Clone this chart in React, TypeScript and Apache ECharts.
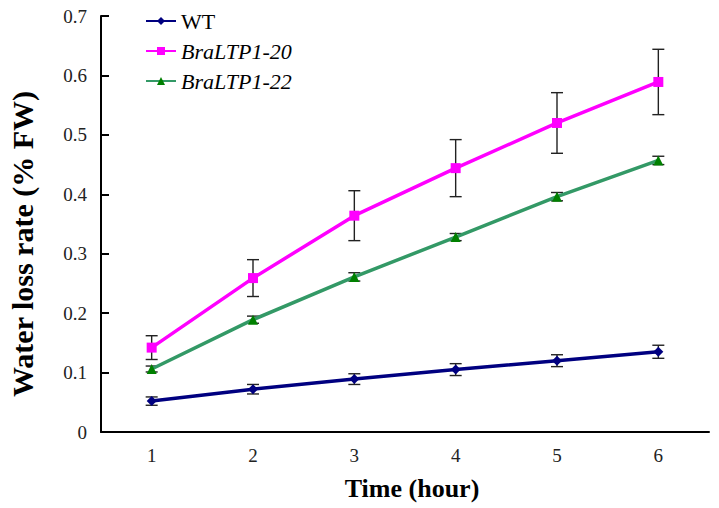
import React, { useEffect, useRef } from "react";
import * as echarts from "echarts";

const categories = ["1", "2", "3", "4", "5", "6"];
const seriesNames = ["WT", "BraLTP1-20", "BraLTP1-22"];
const wtValues = [0.052, 0.072, 0.089, 0.105, 0.12, 0.135];
const wtErrors = [0.007, 0.008, 0.009, 0.01, 0.01, 0.011];
const l20Values = [0.142, 0.259, 0.364, 0.444, 0.52, 0.589];
const l20Errors = [0.02, 0.031, 0.042, 0.048, 0.051, 0.055];
const l22Values = [0.106, 0.189, 0.261, 0.328, 0.396, 0.457];
const l22Errors = [0.005, 0.006, 0.007, 0.006, 0.007, 0.007];
const yTicks = { min: 0, max: 0.7, interval: 0.1 };
const xTitle = "Time (hour)";
const yTitle = "Water loss rate (% FW)";

const SERIF = "'Liberation Serif', 'Times New Roman', serif";

function errData(vals: number[], errs: number[]) {
  return vals.map((v, i) => [i, v - errs[i], v + errs[i]]);
}

function errorSeries(vals: number[], errs: number[]) {
  return {
    type: "custom",
    silent: true,
    z: 3,
    data: errData(vals, errs),
    encode: { x: 0, y: [1, 2] },
    renderItem: (params: any, api: any) => {
      const x = api.value(0);
      const lo = api.coord([x, api.value(1)]);
      const hi = api.coord([x, api.value(2)]);
      const w = 6;
      const style = { stroke: "#222", lineWidth: 1.4 };
      return {
        type: "group",
        children: [
          { type: "line", shape: { x1: lo[0], y1: lo[1], x2: hi[0], y2: hi[1] }, style },
          { type: "line", shape: { x1: lo[0] - w, y1: lo[1], x2: lo[0] + w, y2: lo[1] }, style },
          { type: "line", shape: { x1: hi[0] - w, y1: hi[1], x2: hi[0] + w, y2: hi[1] }, style },
        ],
      };
    },
  };
}

export default function App() {
  const ref = useRef<HTMLDivElement>(null);
  useEffect(() => {
    if (!ref.current) return;
    const chart = echarts.init(ref.current, undefined, { renderer: "svg" });
    chart.setOption({
      animation: false,
      backgroundColor: "#fff",
      grid: { left: 101, right: 10, top: 16, bottom: 76, containLabel: false },
      legend: {
        data: seriesNames,
        orient: "vertical",
        left: 140,
        top: 5,
        itemWidth: 30,
        itemHeight: 10,
        itemGap: 8,
        textStyle: {
          fontFamily: SERIF,
          fontSize: 22,
          color: "#000",
          lineHeight: 22,
          rich: { i: { fontFamily: SERIF, fontSize: 22, fontStyle: "italic", color: "#000" } },
        },
        formatter: (name: string) => (name === "WT" ? name : `{i|${name}}`),
      },
      xAxis: {
        type: "category",
        data: categories,
        boundaryGap: true,
        axisLine: { lineStyle: { color: "#000", width: 2 } },
        axisTick: { inside: true, length: 8, lineStyle: { color: "#000", width: 2 } },
        axisLabel: { fontFamily: SERIF, fontSize: 19, color: "#222", margin: 14 },
        splitLine: { show: false },
      },
      yAxis: {
        type: "value",
        min: yTicks.min,
        max: yTicks.max,
        interval: yTicks.interval,
        axisLine: { show: true, lineStyle: { color: "#000", width: 2 } },
        axisTick: { show: true, inside: true, length: 8, lineStyle: { color: "#000", width: 2 } },
        axisLabel: {
          fontFamily: SERIF,
          fontSize: 19,
          color: "#222",
          margin: 14,
          formatter: (v: number) => (v === 0 ? "0" : v.toFixed(1)),
        },
        splitLine: { show: false },
      },
      graphic: [
        {
          type: "text",
          x: 412,
          y: 488,
          style: {
            text: xTitle,
            fontFamily: SERIF,
            fontSize: 26,
            fontWeight: "bold",
            fill: "#000",
            align: "center",
            verticalAlign: "middle",
          },
        },
        {
          type: "text",
          x: 22,
          y: 244,
          rotation: Math.PI / 2,
          style: {
            text: yTitle,
            fontFamily: SERIF,
            fontSize: 30,
            fontWeight: "bold",
            fill: "#000",
            align: "center",
            verticalAlign: "middle",
          },
        },
      ],
      series: [
        {
          name: seriesNames[0],
          type: "line",
          data: wtValues,
          z: 4,
          lineStyle: { color: "#000080", width: 3.5 },
          itemStyle: { color: "#000080" },
          symbol: "diamond",
          symbolSize: 10,
        },
        {
          name: seriesNames[1],
          type: "line",
          data: l20Values,
          z: 4,
          lineStyle: { color: "#FF00FF", width: 3.5 },
          itemStyle: { color: "#FF00FF" },
          symbol: "rect",
          symbolSize: 10,
        },
        {
          name: seriesNames[2],
          type: "line",
          data: l22Values,
          z: 4,
          lineStyle: { color: "#339966", width: 3.5 },
          itemStyle: { color: "#008000" },
          symbol: "triangle",
          symbolSize: 10,
        },
        errorSeries(wtValues, wtErrors),
        errorSeries(l20Values, l20Errors),
        errorSeries(l22Values, l22Errors),
      ],
    });
    return () => chart.dispose();
  }, []);
  return <div ref={ref} style={{ width: 719, height: 508, position: "absolute", left: 0, top: 0 }} />;
}
